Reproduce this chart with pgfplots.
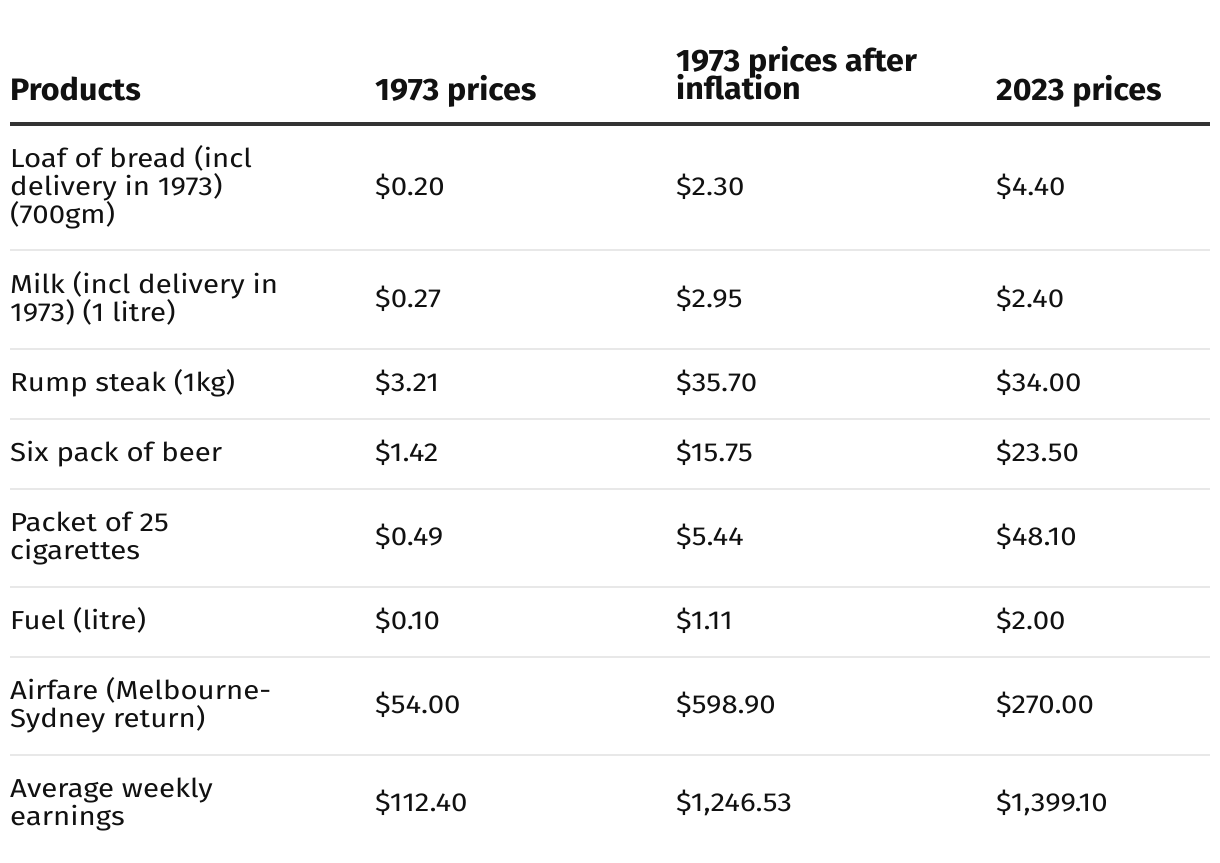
\documentclass[border=0pt]{standalone}
\usepackage{fontspec}
\setmainfont{Fira Sans}
\newfontfamily\bodyfam{Fira Sans}[FakeStretch=1.13]
\newfontfamily\headfam{Fira Sans}[FakeStretch=1.04]
\usepackage{pgfplots}
\usepackage{pgfplotstable}
\pgfplotsset{compat=1.18}
\definecolor{txt}{HTML}{111111}
\definecolor{rulethick}{HTML}{333333}
\definecolor{rulethin}{HTML}{E8E8E8}
\tikzset{rulesep/.style={color=rulethin, line width=2pt}}
\newcommand\bodyfont{\bodyfam\fontsize{26}{28}\selectfont}
\newcommand\headfont{\headfam\fontsize{31}{34}\selectfont\bfseries}

\pgfplotstableread[col sep=semicolon]{
x;y;label
10;100;Products
375;100;1973 prices
676;71;1973 prices after
676;99;inflation
996;100;2023 prices
}\headtable

\pgfplotstableread[col sep=semicolon]{
x;y;label
10;167;Loaf of bread (incl
10;195;delivery in 1973)
10;223;(700gm)
10;293;Milk (incl delivery in
10;321;1973) (1 litre)
10;391;Rump steak (1kg)
10;461;Six pack of beer
10;531;Packet of 25
10;559;cigarettes
10;629;Fuel (litre)
10;699;Airfare (Melbourne-
10;727;Sydney return)
10;797;Average weekly
10;825;earnings
}\labeltable

\pgfplotstableread[col sep=semicolon]{
y;p1;p2;p3
195;0.20;2.30;4.40
307;0.27;2.95;2.40
391;3.21;35.70;34.00
461;1.42;15.75;23.50
545;0.49;5.44;48.10
629;0.10;1.11;2.00
713;54.00;598.90;270.00
811;112.40;1246.53;1399.10
}\pricetable

\begin{document}
\begin{tikzpicture}
\begin{axis}[
  scale only axis, width=1220pt, height=862pt,
  xmin=0, xmax=1220, ymin=0, ymax=862, y dir=reverse,
  hide axis, clip=false, enlargelimits=false,
  every node near coord/.append style={anchor=base west, inner sep=0pt, text=txt},
  price/.style={draw=none, mark=none, point meta=explicit,
    nodes near coords={\$\pgfmathprintnumber[fixed,fixed zerofill,precision=2,1000 sep={,},assume math mode=true]{\pgfplotspointmeta}},
    nodes near coords style={font=\bodyfont}},
]
\fill[white] (axis cs:0,0) rectangle (axis cs:1220,862);
\draw[color=rulethick, line width=4pt] (axis cs:10,124) -- (axis cs:1210,124);
\draw[rulesep] (axis cs:10,250) -- (axis cs:1210,250);
\draw[rulesep] (axis cs:10,349) -- (axis cs:1210,349);
\draw[rulesep] (axis cs:10,419) -- (axis cs:1210,419);
\draw[rulesep] (axis cs:10,489) -- (axis cs:1210,489);
\draw[rulesep] (axis cs:10,587) -- (axis cs:1210,587);
\draw[rulesep] (axis cs:10,657) -- (axis cs:1210,657);
\draw[rulesep] (axis cs:10,755) -- (axis cs:1210,755);
\addplot[draw=none, mark=none, point meta=explicit symbolic, nodes near coords,
  nodes near coords style={font=\headfont}] table[x=x, y=y, meta=label] {\headtable};
\addplot[draw=none, mark=none, point meta=explicit symbolic, nodes near coords,
  nodes near coords style={font=\bodyfont}] table[x=x, y=y, meta=label] {\labeltable};
\addplot[price] table[x expr=375, y=y, meta=p1] {\pricetable};
\addplot[price] table[x expr=676, y=y, meta=p2] {\pricetable};
\addplot[price] table[x expr=996, y=y, meta=p3] {\pricetable};
\end{axis}
\end{tikzpicture}
\end{document}
